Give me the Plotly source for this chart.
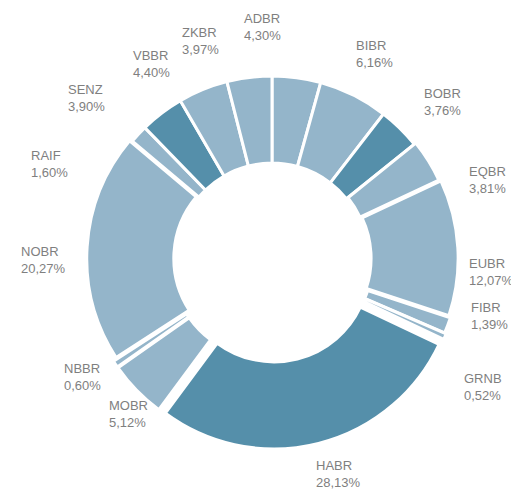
import math
import plotly.graph_objects as go

# ── Data ──────────────────────────────────────────────────────────────────────
labels = ["ADBR", "BIBR", "BOBR", "EQBR", "EUBR", "FIBR", "GRNB", "HABR",
          "MOBR", "NBBR", "NOBR", "RAIF", "SENZ", "VBBR", "ZKBR"]
shares = [4.30, 6.16, 3.76, 3.81, 12.07, 1.39, 0.52, 28.13,
          5.12, 0.60, 20.27, 1.60, 3.90, 4.40, 3.97]

# ── Style ─────────────────────────────────────────────────────────────────────
_DARK = "#558faa"
_LIGHT = "#94b5ca"
_TEXT = "#7f7f7f"
_FONT = dict(family="Liberation Sans, Arial, sans-serif", size=13, color=_TEXT)
W, H = 519, 489
OFF = 8                    # page body margin the figure sits inside
CX, CY = 272 - OFF, 258.5 - OFF   # pie centre in px
R = 182.5                  # outer radius in px
dark = {"BOBR", "HABR", "SENZ"}
pulled = {"EQBR": 0.01, "EUBR": 0.02, "FIBR": 0.03, "GRNB": 0.04, "HABR": 0.045,
          "MOBR": 0.035, "NBBR": 0.035, "NOBR": 0.015}
# angular nudges (deg) so the outside labels do not collide
label_shift = {"ADBR": -10, "BOBR": 3, "EQBR": 12, "EUBR": 7, "FIBR": -6,
               "GRNB": 7, "HABR": -3, "MOBR": -3, "NBBR": 2, "NOBR": -4,
               "RAIF": -20, "SENZ": -12, "VBBR": -9.5, "ZKBR": -11}
label_r = {"ADBR": 232, "EUBR": 220, "FIBR": 225, "GRNB": 247, "HABR": 225,
           "MOBR": 212, "NBBR": 223, "RAIF": 242, "SENZ": 245, "BOBR": 231}
R_LABEL = 229

colors = [_DARK if l in dark else _LIGHT for l in labels]
pulls = [pulled.get(l, 0) for l in labels]
max_pull = max(pulls)
size = 2 * R * (1 + max_pull)

fig = go.Figure(go.Pie(
    labels=labels, values=shares,
    sort=False, direction="clockwise", rotation=0,
    hole=0.523, pull=pulls,
    marker=dict(colors=colors, line=dict(color="white", width=3)),
    textinfo="none", hoverinfo="label+percent",
    domain=dict(x=[(CX - size / 2) / W, (CX + size / 2) / W],
                y=[1 - (CY + size / 2) / H, 1 - (CY - size / 2) / H]),
))

# outside labels, placed by the slice mid-angle
total = sum(shares)
cum = 0
for l, v in zip(labels, shares):
    mid = (cum + v / 2) / total * 360 + label_shift.get(l, 0)
    cum += v
    r = label_r.get(l, R_LABEL)
    px = CX + r * math.sin(math.radians(mid))
    py = CY - r * math.cos(math.radians(mid))
    fig.add_annotation(
        x=px / W, y=1 - py / H, xref="paper", yref="paper",
        text=f"{l}<br>{v:.2f}".replace(".", ",") + "%",
        showarrow=False, align="left", xanchor="center", yanchor="middle",
        font=_FONT,
    )

fig.update_layout(
    width=W, height=H,
    margin=dict(l=0, r=0, t=0, b=0),
    paper_bgcolor="white", plot_bgcolor="white",
    showlegend=False,
)

fig.write_html("out.html")
